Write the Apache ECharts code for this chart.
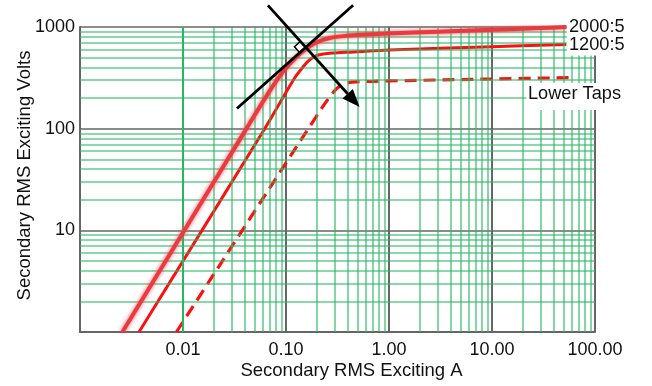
<!DOCTYPE html>
<html>
<head>
<meta charset="utf-8">
<script src="https://cdn.jsdelivr.net/npm/echarts@6/dist/echarts.min.js"></script>
<style>
html, body { margin: 0; padding: 0; background: #fff; }
#main { width: 652px; height: 386px; }
</style>
</head>
<body>
<div id="main"></div>
<script>
// CT excitation curves, log-log paper
var ampsTap2000 = [0.00258, 0.0413, 0.07, 0.094, 0.126, 0.158, 0.197, 0.266, 0.385, 0.6, 1, 3, 10, 29, 52.7];
var voltsTap2000 = [1, 100, 238, 365, 505, 612, 705, 780, 820, 842, 862, 900, 940, 975, 998];
var ampsTap1200 = [0.00374, 0.0621, 0.12, 0.145, 0.165, 0.19, 0.23, 0.3, 0.45, 1, 10, 52.7];
var voltsTap1200 = [1, 100, 310, 400, 465, 515, 543, 556, 568, 593, 640, 672];
var ampsLower = [0.00863, 0.1, 0.2, 0.24, 0.275, 0.31, 0.35, 0.4, 0.5, 0.7, 1, 10, 63.5];
var voltsLower = [1, 46, 135, 178, 215, 248, 270, 283, 289, 292, 295, 308, 318];

// knee-point construction lines (A carries the arrow)
var crossLineA = [[0.0668, 1634], [0.519, 163]];
var crossLineB = [[0.0334, 158], [0.448, 1634]];

var tapNames = ['2000:5', '1200:5', 'Lower Taps'];
var xDecades = [0.001, 0.01, 0.1, 1, 10];
var yDecades = [1, 10, 100];

var font = 'Liberation Sans, Arial, sans-serif';
var majorColor = '#666';
var minorColor = 'rgba(40,185,100,0.72)';

function pairs(xs, ys) {
    return xs.map(function (x, i) { return [x, ys[i]]; });
}

// log paper minor lines 2..9 in each decade
var minorLines = [];
xDecades.forEach(function (d) {
    for (var k = 2; k <= 9; k++) minorLines.push({ xAxis: +(d * k).toPrecision(3) });
});
yDecades.forEach(function (d) {
    for (var k = 2; k <= 9; k++) minorLines.push({ yAxis: d * k });
});

var chart = echarts.init(document.getElementById('main'));

var option = {
    animation: false,
    grid: { left: 80, right: 57, top: 27, bottom: 54, containLabel: false, outerBoundsMode: 'none' },
    xAxis: {
        type: 'log', logBase: 10, min: 0.001, max: 100,
        name: 'Secondary RMS Exciting A', nameLocation: 'middle', nameGap: 29, nameMoveOverlap: false,
        nameTextStyle: { fontFamily: font, fontSize: 18.5, color: '#111', padding: [0, 0, 0, 28] },
        axisLine: { show: true, onZero: false, lineStyle: { color: majorColor, width: 2 } },
        axisTick: { show: false },
        axisLabel: {
            margin: 9, fontFamily: font, fontSize: 18, color: '#111',
            formatter: function (v) { return v < 0.005 ? '' : v.toFixed(2); }
        },
        splitLine: { show: true, lineStyle: { color: majorColor, width: 2 } }
    },
    yAxis: {
        type: 'log', logBase: 10, min: 1, max: 1000,
        name: 'Secondary RMS Exciting Volts', nameLocation: 'middle', nameGap: 46, nameMoveOverlap: false,
        nameTextStyle: { fontFamily: font, fontSize: 18.5, color: '#111', padding: [0, 0, 0, 8] },
        axisLine: { show: true, onZero: false, lineStyle: { color: majorColor, width: 2 } },
        axisTick: { show: false },
        axisLabel: {
            margin: 5, fontFamily: font, fontSize: 18, color: '#111',
            formatter: function (v) { return v < 5 ? '' : String(Math.round(v)); }
        },
        splitLine: { show: true, lineStyle: { color: majorColor, width: 1.6 } }
    },
    series: [
        {
            // grid helper
            type: 'line', z: 1, silent: true,
            data: [[0.001, 1]], showSymbol: false, lineStyle: { opacity: 0 },
            markLine: {
                silent: true, symbol: 'none', animation: false,
                label: { show: false },
                lineStyle: { type: 'solid', color: minorColor, width: 1.6 },
                emphasis: { disabled: true },
                data: minorLines
            }
        },
        {
            name: tapNames[0], type: 'line', z: 5, smooth: 0.35, showSymbol: false,
            data: pairs(ampsTap2000, voltsTap2000),
            lineStyle: { color: '#ea3a40', width: 4, shadowColor: 'rgba(240,70,80,0.85)', shadowBlur: 4 }
        },
        {
            name: tapNames[1], type: 'line', z: 4, smooth: 0.35, showSymbol: false,
            data: pairs(ampsTap1200, voltsTap1200),
            lineStyle: { color: '#ff1010', width: 3 }
        },
        {
            name: tapNames[2], type: 'line', z: 4, smooth: 0.35, showSymbol: false,
            data: pairs(ampsLower, voltsLower),
            lineStyle: { color: '#ff1010', width: 3.2, type: [12, 7] }
        }
    ]
};

chart.setOption(option);

function px(p) {
    return chart.convertToPixel({ xAxisIndex: 0, yAxisIndex: 0 }, p);
}

var a0 = px(crossLineA[0]), a1 = px(crossLineA[1]);
var b0 = px(crossLineB[0]), b1 = px(crossLineB[1]);

// arrow head on line A
var dx = a1[0] - a0[0], dy = a1[1] - a0[1];
var len = Math.sqrt(dx * dx + dy * dy);
var ux = dx / len, uy = dy / len;
var headLen = 18, headW = 7;
var base = [a1[0] - ux * headLen, a1[1] - uy * headLen];

// intersection for the right-angle mark
var ex = b1[0] - b0[0], ey = b1[1] - b0[1];
var den = dx * ey - dy * ex;
var t = ((b0[0] - a0[0]) * ey - (b0[1] - a0[1]) * ex) / den;
var P = [a0[0] + dx * t, a0[1] + dy * t];
var blen = Math.sqrt(ex * ex + ey * ey);
var vx = -ex / blen, vy = -ey / blen;   // along B toward lower-left
var sq = 8;
var corner1 = [P[0] - ux * sq, P[1] - uy * sq];
var corner3 = [P[0] + vx * sq, P[1] + vy * sq];
var corner2 = [corner1[0] + vx * sq, corner1[1] + vy * sq];

var end2000 = px([ampsTap2000[ampsTap2000.length - 1], voltsTap2000[voltsTap2000.length - 1]]);
var end1200 = px([ampsTap1200[ampsTap1200.length - 1], voltsTap1200[voltsTap1200.length - 1]]);
var endLower = px([ampsLower[ampsLower.length - 1], voltsLower[voltsLower.length - 1]]);

var labelStyle = { fontFamily: font, fontSize: 18.2, fill: '#111', textAlign: 'left', textVerticalAlign: 'middle' };

chart.setOption({
    graphic: [
        { type: 'rect', z: 90, silent: true,
          shape: { x: end2000[0] + 0.5, y: 0, width: 652 - end2000[0], height: end1200[1] + 11 },
          style: { fill: '#fff' } },
        { type: 'rect', z: 90, silent: true,
          shape: { x: endLower[0] - 48.3, y: endLower[1] + 5.3, width: 200, height: 27 },
          style: { fill: '#fff' } },
        { type: 'text', z: 95, x: end2000[0] + 2.6, y: end2000[1] + 0,
          style: Object.assign({ text: tapNames[0] }, labelStyle) },
        { type: 'text', z: 95, x: end1200[0] + 2.6, y: end1200[1] + 0.7,
          style: Object.assign({ text: tapNames[1] }, labelStyle) },
        { type: 'text', z: 95, x: endLower[0] - 46.7, y: endLower[1] + 16.8,
          style: Object.assign({ text: tapNames[2] }, labelStyle) },
        { type: 'line', z: 100, silent: true,
          shape: { x1: b0[0], y1: b0[1], x2: b1[0], y2: b1[1] },
          style: { stroke: '#000', lineWidth: 2.8 } },
        { type: 'line', z: 100, silent: true,
          shape: { x1: a0[0], y1: a0[1], x2: base[0], y2: base[1] },
          style: { stroke: '#000', lineWidth: 2.8 } },
        { type: 'polygon', z: 100, silent: true,
          shape: { points: [a1, [base[0] - uy * headW, base[1] + ux * headW], [base[0] + uy * headW, base[1] - ux * headW]] },
          style: { fill: '#000' } },
        { type: 'polygon', z: 99, silent: true,
          shape: { points: [P, corner1, corner2, corner3] },
          style: { fill: '#fff', stroke: '#000', lineWidth: 1.5 } }
    ]
});

window.onresize = function () {
    chart.resize();
};
</script>
</body>
</html>
